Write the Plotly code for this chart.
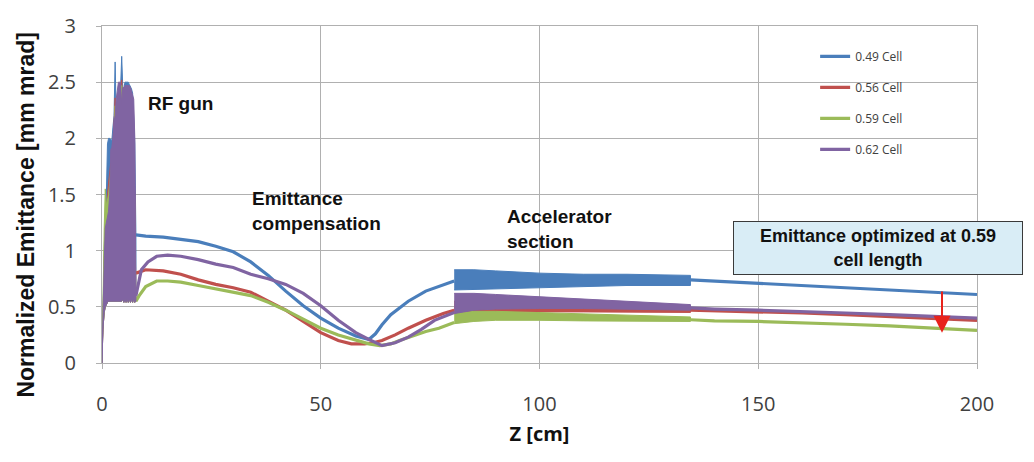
import plotly.graph_objects as go

# ---- series labels and colours -------------------------------------------
SERIES = ["0.49 Cell", "0.56 Cell", "0.59 Cell", "0.62 Cell"]
COLORS = ["#4a7ebb", "#c0504d", "#9bbb59", "#8064a2"]

# ---- RF gun region: upper envelope of the fast oscillation ----------------
GUN_Z = [0, 0.2, 0.5, 0.75, 1.0, 1.25, 1.5, 1.75, 2.0, 2.25, 2.5, 2.75, 3.0, 3.25,
         3.5, 3.75, 4.0, 4.25, 4.5, 4.75, 5.0, 5.25, 5.5, 5.75, 6.0, 6.25, 6.5,
         6.75, 7.0, 7.25, 7.5, 7.75]
GUN_TOP_049 = [0, 0.55, 1.0, 1.3, 1.5, 1.95, 2.0, 2.0, 1.99, 1.98, 2.1, 2.2, 2.68, 2.2,
               2.3, 2.35, 2.4, 2.45, 2.73, 2.45, 2.45, 2.5, 2.5, 2.5, 2.5, 2.48, 2.46,
               2.44, 2.4, 2.2, 1.95, 1.14]
GUN_TOP_056 = [0, 0.5, 0.9, 1.2, 1.4, 1.5, 1.6, 1.7, 1.78, 1.7, 1.9, 2.1, 2.36, 2.1,
               2.2, 2.25, 2.3, 2.35, 2.52, 2.35, 2.3, 2.3, 2.3, 2.3, 2.25, 2.2, 2.1,
               2.0, 1.9, 1.8, 1.5, 0.83]
GUN_TOP_059 = [0, 0.6, 1.2, 1.55, 1.4, 1.45, 1.5, 1.6, 1.7, 1.75, 1.9, 2.0, 2.29, 2.0,
               2.1, 2.15, 2.2, 2.25, 2.47, 2.25, 2.2, 2.2, 2.2, 2.2, 2.15, 2.1, 2.0,
               1.9, 1.8, 1.7, 1.4, 0.6]
GUN_TOP_062 = [0, 0.45, 0.9, 1.2, 1.25, 1.3, 1.35, 1.5, 1.9, 1.92, 2.0, 2.15, 2.2, 2.35,
               2.45, 2.5, 2.5, 2.5, 2.3, 2.45, 2.45, 2.47, 2.47, 2.47, 2.47, 2.47, 2.45,
               2.42, 2.4, 2.35, 2.0, 0.7]
# lower envelope of the oscillation (common to all cases)
GUN_BOTTOM = [0, 0.3, 0.45, 0.5, 0.52, 0.54, 0.55, 0.55, 0.55, 0.55, 0.55, 0.55, 0.55,
              0.55, 0.55, 0.55, 0.55, 0.55, 0.55, 0.57, 0.54, 0.57, 0.54, 0.57, 0.54,
              0.57, 0.54, 0.57, 0.54, 0.57, 0.54, 0.55]

# ---- drift / emittance compensation ---------------------------------------
DRIFT_Z_049 = [7.75, 10, 14, 18, 22, 26, 30, 34, 38, 42, 46, 50, 54, 58, 61, 62.5, 64,
               66, 70, 74, 78, 80.5]
DRIFT_E_049 = [1.14, 1.13, 1.12, 1.10, 1.08, 1.04, 0.99, 0.90, 0.78, 0.64, 0.51, 0.40,
               0.31, 0.24, 0.21, 0.26, 0.34, 0.43, 0.55, 0.64, 0.70, 0.73]
DRIFT_Z_056 = [7.75, 10, 14, 18, 22, 26, 30, 34, 38, 42, 46, 50, 54, 57, 60, 62, 64, 67,
               70, 74, 78, 80.5]
DRIFT_E_056 = [0.80, 0.83, 0.82, 0.79, 0.74, 0.70, 0.67, 0.63, 0.55, 0.47, 0.37, 0.27,
               0.20, 0.17, 0.17, 0.18, 0.20, 0.25, 0.31, 0.38, 0.44, 0.47]
DRIFT_Z_059 = [7.75, 8.5, 10, 12.5, 15, 18, 22, 26, 30, 34, 38, 42, 46, 50, 54, 58, 61,
               63.5, 66, 68, 71, 74, 77, 80.5]
DRIFT_E_059 = [0.55, 0.60, 0.68, 0.73, 0.73, 0.72, 0.69, 0.66, 0.63, 0.60, 0.54, 0.47,
               0.39, 0.31, 0.25, 0.20, 0.17, 0.155, 0.17, 0.20, 0.24, 0.28, 0.31, 0.36]
DRIFT_Z_062 = [7.75, 9, 10.5, 12.5, 15, 18, 22, 26, 30, 34, 38, 42, 46, 50, 54, 58, 61,
               64, 67, 70, 73, 76, 80.5]
DRIFT_E_062 = [0.60, 0.83, 0.90, 0.95, 0.96, 0.95, 0.92, 0.88, 0.85, 0.79, 0.75, 0.70,
               0.62, 0.51, 0.38, 0.27, 0.21, 0.155, 0.18, 0.23, 0.30, 0.38, 0.45]

# ---- accelerator section: oscillation band limits -------------------------
ACC_Z = [80.5, 85, 90, 100, 110, 120, 134.5]
ACC_TOP_049 = [0.83, 0.83, 0.82, 0.80, 0.79, 0.79, 0.78]
ACC_BOT_049 = [0.65, 0.66, 0.66, 0.67, 0.68, 0.69, 0.69]
ACC_TOP_056 = [0.55, 0.54, 0.53, 0.52, 0.51, 0.50, 0.49]
ACC_BOT_056 = [0.44, 0.45, 0.455, 0.455, 0.455, 0.455, 0.45]
ACC_TOP_059 = [0.44, 0.46, 0.46, 0.45, 0.44, 0.43, 0.41]
ACC_BOT_059 = [0.35, 0.37, 0.38, 0.38, 0.375, 0.37, 0.37]
ACC_TOP_062 = [0.62, 0.62, 0.61, 0.59, 0.57, 0.55, 0.52]
ACC_BOT_062 = [0.44, 0.47, 0.48, 0.485, 0.485, 0.48, 0.47]

# ---- downstream of the accelerating structure ------------------------------
TAIL_Z = [134.5, 140, 150, 160, 170, 180, 190, 200]
TAIL_E_049 = [0.74, 0.73, 0.71, 0.69, 0.67, 0.65, 0.63, 0.61]
TAIL_E_056 = [0.47, 0.465, 0.455, 0.445, 0.43, 0.415, 0.40, 0.38]
TAIL_E_059 = [0.385, 0.375, 0.37, 0.36, 0.345, 0.33, 0.31, 0.29]
TAIL_E_062 = [0.49, 0.48, 0.47, 0.46, 0.445, 0.43, 0.415, 0.40]

# ---- axis ticks -------------------------------------------------------------
X_TICKS = [0, 50, 100, 150, 200]
Y_TICKS = [0, 0.5, 1, 1.5, 2, 2.5, 3]
Y_TICK_TEXT = ["0", "0.5", "1", "1.5", "2", "2.5", "3"]

gun_tops = [GUN_TOP_049, GUN_TOP_056, GUN_TOP_059, GUN_TOP_062]
drift_z = [DRIFT_Z_049, DRIFT_Z_056, DRIFT_Z_059, DRIFT_Z_062]
drift_e = [DRIFT_E_049, DRIFT_E_056, DRIFT_E_059, DRIFT_E_062]
acc_top = [ACC_TOP_049, ACC_TOP_056, ACC_TOP_059, ACC_TOP_062]
acc_bot = [ACC_BOT_049, ACC_BOT_056, ACC_BOT_059, ACC_BOT_062]
tail_e = [TAIL_E_049, TAIL_E_056, TAIL_E_059, TAIL_E_062]

fig = go.Figure()


def band(z, top, bottom):
    """Closed outline of an oscillation band (top left->right, bottom back)."""
    return list(z) + list(z)[::-1], list(top) + list(bottom)[::-1]


LW = 3.2
for i, name in enumerate(SERIES):
    c = COLORS[i]
    gx, gy = band(GUN_Z, gun_tops[i], GUN_BOTTOM)
    fig.add_trace(go.Scatter(x=gx, y=gy, fill="toself", fillcolor=c, mode="lines",
                             line=dict(color=c, width=1), legendgroup=name,
                             showlegend=False, hoverinfo="skip"))
    ax_, ay_ = band(ACC_Z, acc_top[i], acc_bot[i])
    fig.add_trace(go.Scatter(x=ax_, y=ay_, fill="toself", fillcolor=c, mode="lines",
                             line=dict(color=c, width=1), legendgroup=name,
                             showlegend=False, hoverinfo="skip"))
    fig.add_trace(go.Scatter(x=TAIL_Z, y=tail_e[i], mode="lines",
                             line=dict(color=c, width=LW), legendgroup=name,
                             showlegend=False))
    fig.add_trace(go.Scatter(x=drift_z[i], y=drift_e[i], mode="lines", name=name,
                             line=dict(color=c, width=LW), legendgroup=name,
                             showlegend=True))

TEXT_FONT = dict(family="Liberation Sans, Arial, sans-serif", size=19, color="#111111")

fig.add_annotation(x=10, y=2.31, xref="x", yref="y", xanchor="left", yanchor="middle",
                   text="<b>RF gun</b>", showarrow=False, font=TEXT_FONT)
fig.add_annotation(x=33.8, y=1.35, xref="x", yref="y", xanchor="left", yanchor="middle",
                   align="left", text="<b>Emittance<br>compensation</b>",
                   showarrow=False, font=TEXT_FONT)
fig.add_annotation(x=92.1, y=1.19, xref="x", yref="y", xanchor="left", yanchor="middle",
                   align="left", text="<b>Accelerator<br>section</b>",
                   showarrow=False, font=TEXT_FONT)
fig.add_annotation(x=177.4, y=1.02, xref="x", yref="y", xanchor="center",
                   yanchor="middle", align="center",
                   text="<b>Emittance optimized at 0.59<br>cell length</b>",
                   showarrow=False, font=dict(TEXT_FONT, size=18),
                   bgcolor="#d9edf6", bordercolor="#3a3a3a", borderwidth=1,
                   borderpad=3, width=282, height=46)
fig.add_annotation(x=192, y=0.27, ax=192, ay=0.65, xref="x", yref="y", axref="x",
                   ayref="y", text="", showarrow=True, arrowhead=2, arrowsize=1.7,
                   arrowwidth=2, arrowcolor="#e8231c", standoff=0)

# vertical axis title, set slightly below the plot centre
fig.add_annotation(x=-0.087, y=0.44, xref="paper", yref="paper", xanchor="center",
                   yanchor="middle", textangle=-90, showarrow=False,
                   text="<b>Normalized Emittance [mm mrad]</b>",
                   font=dict(family="Liberation Sans, Arial, sans-serif", size=23,
                             color="#111111"))

TICK_FONT = dict(family="Open Sans, sans-serif", size=20, color="#404040")
GRID = "#b0b0b0"

fig.update_xaxes(range=[0, 200], tickvals=X_TICKS, showgrid=True, gridcolor=GRID,
                 gridwidth=1, showline=True, linecolor=GRID, linewidth=1, mirror=True,
                 ticks="outside", ticklen=5, tickcolor=GRID, zeroline=False,
                 tickfont=TICK_FONT, ticklabelstandoff=18,
                 title=dict(text="<b>Z [cm]</b>", standoff=10,
                            font=dict(family="Open Sans, sans-serif", size=20,
                                      color="#111111")))
fig.update_yaxes(range=[0, 3], tickvals=Y_TICKS, ticktext=Y_TICK_TEXT,
                 showgrid=True, gridcolor=GRID,
                 gridwidth=1, showline=True, linecolor=GRID, linewidth=1, mirror=True,
                 ticks="outside", ticklen=5, tickcolor=GRID, zeroline=False,
                 tickfont=TICK_FONT, ticklabelstandoff=16)

fig.update_layout(
    width=1034, height=462,
    margin=dict(l=102, r=57, t=15, b=99),
    paper_bgcolor="white", plot_bgcolor="white",
    legend=dict(x=0.815, y=0.953, xanchor="left", yanchor="top",
                bgcolor="rgba(0,0,0,0)", tracegroupgap=12,
                font=dict(family="Open Sans, sans-serif", size=12, color="#404040")),
    showlegend=True,
)

fig.write_html("out.html")
